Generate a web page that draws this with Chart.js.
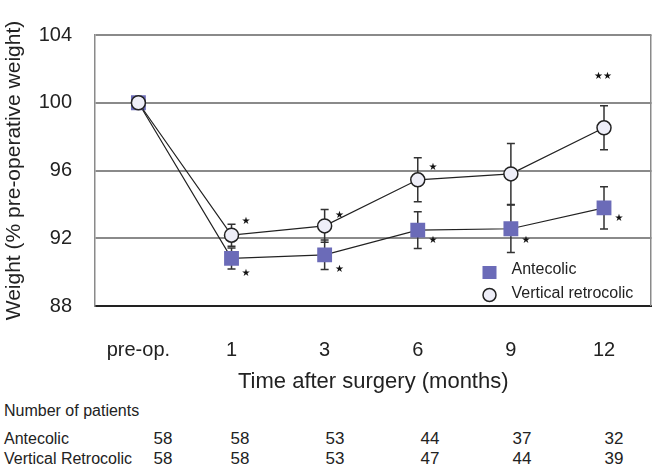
<!DOCTYPE html>
<html>
<head>
<meta charset="utf-8">
<script src="https://cdn.jsdelivr.net/npm/chart.js@4/dist/chart.umd.min.js"></script>
<style>
  body { margin: 0; background: #fff; font-family: "Liberation Sans", Arial, sans-serif; color: #222; }
  #wrap { position: relative; width: 662px; height: 470px; }
  #chart-box { position: absolute; left: 0; top: 0; width: 662px; height: 400px; }
  .t { position: absolute; font-size: 16px; line-height: 18px; white-space: nowrap; }
  .n { transform: translateX(-50%); font-size: 17px; }
</style>
</head>
<body>
<div id="wrap">
  <div id="chart-box"><canvas id="chart" width="662" height="400"></canvas></div>
  <div id="table"></div>
</div>
<script>
// time points (x index 0..5)
var timeLabels = ["pre-op.", "1", "3", "6", "9", "12"];

// mean weight, % of pre-operative
var antecolic = [100, 90.81, 91.02, 92.48, 92.56, 93.79];
var retrocolic = [100, 92.18, 92.73, 95.45, 95.8, 98.52];

// error bar half lengths
var antecolicErr = [0, 0.62, 0.87, 1.08, 1.4, 1.25];
var retrocolicErr = [0, 0.65, 0.97, 1.3, 1.8, 1.3];

// significance marks [x, y, text]
var marks = [
  [1.155, 93.0, "★"], [1.155, 89.93, "★"],
  [2.16, 93.37, "★"], [2.16, 90.16, "★"],
  [3.164, 96.21, "★"], [3.164, 91.86, "★"],
  [4.162, 91.86, "★"],
  [5.162, 93.18, "★"],
  [4.99, 101.54, "★★"]
];

// patient numbers
var patientsAntecolic = [58, 58, 53, 44, 37, 32];
var patientsRetrocolic = [58, 58, 53, 47, 44, 39];

var FONT = "'Liberation Sans', Arial, sans-serif";
var SQUARE = "#6b6bb8";
var CIRCLE = "#eeeef8";

function pts(arr) {
  return arr.map(function(v, i) { return { x: i, y: v }; });
}

var extras = {
  id: "extras",
  beforeDatasetsDraw: function(chart) {
    var ctx = chart.ctx, xs = chart.scales.x, ys = chart.scales.y, a = chart.chartArea;
    ctx.save();
    // right frame line
    ctx.strokeStyle = "#8a8a8a";
    ctx.lineWidth = 1.5;
    ctx.beginPath();
    ctx.moveTo(a.right - 0.75, a.top);
    ctx.lineTo(a.right - 0.75, a.bottom);
    ctx.stroke();
    // error bars
    var sets = [[antecolic, antecolicErr], [retrocolic, retrocolicErr]];
    ctx.strokeStyle = "#333";
    ctx.lineWidth = 1.5;
    sets.forEach(function(s) {
      s[0].forEach(function(v, i) {
        var e = s[1][i];
        if (!e) return;
        var x = xs.getPixelForValue(i);
        var y1 = ys.getPixelForValue(v + e), y2 = ys.getPixelForValue(v - e);
        ctx.beginPath();
        ctx.moveTo(x, y1); ctx.lineTo(x, y2);
        ctx.moveTo(x - 4, y1); ctx.lineTo(x + 4, y1);
        ctx.moveTo(x - 4, y2); ctx.lineTo(x + 4, y2);
        ctx.stroke();
      });
    });
    ctx.restore();
  },
  afterDraw: function(chart) {
    var ctx = chart.ctx, xs = chart.scales.x, ys = chart.scales.y, a = chart.chartArea;
    ctx.save();
    ctx.fillStyle = "#111";
    ctx.font = "10px 'DejaVu Sans', sans-serif";
    ctx.textAlign = "center";
    ctx.textBaseline = "middle";
    marks.forEach(function(m) {
      ctx.fillText(m[2], xs.getPixelForValue(m[0]), ys.getPixelForValue(m[1]));
    });
    // legend
    var lx = a.right - 162, ly = a.bottom - 34;
    ctx.fillStyle = SQUARE;
    ctx.fillRect(lx - 7, ly - 6, 14, 13);
    ctx.beginPath();
    ctx.arc(lx, ly + 23, 6.5, 0, Math.PI * 2);
    ctx.fillStyle = CIRCLE;
    ctx.fill();
    ctx.strokeStyle = "#222";
    ctx.lineWidth = 1.5;
    ctx.stroke();
    ctx.fillStyle = "#222";
    ctx.font = "16px " + FONT;
    ctx.textAlign = "left";
    ctx.fillText("Antecolic", lx + 22, ly - 2);
    ctx.fillText("Vertical retrocolic", lx + 22, ly + 22);
    ctx.restore();
  }
};

window.addEventListener("load", function() {
  new Chart(document.getElementById("chart"), {
    type: "scatter",
    data: {
      datasets: [{
        label: "Antecolic",
        data: pts(antecolic),
        showLine: true,
        borderColor: "#222",
        borderWidth: 1.2,
        pointStyle: "rect",
        pointRadius: 10.5,
        pointBackgroundColor: SQUARE,
        pointBorderColor: SQUARE,
        pointBorderWidth: 0,
        order: 2
      }, {
        label: "Vertical retrocolic",
        data: pts(retrocolic),
        showLine: true,
        borderColor: "#222",
        borderWidth: 1.2,
        pointStyle: "circle",
        pointRadius: 7,
        pointBackgroundColor: CIRCLE,
        pointBorderColor: "#222",
        pointBorderWidth: 1.5,
        order: 1
      }]
    },
    options: {
      responsive: false,
      animation: false,
      layout: { padding: { top: 24, right: 2, left: 0, bottom: 0 } },
      plugins: { legend: { display: false }, tooltip: { enabled: false } },
      scales: {
        x: {
          type: "linear",
          min: -0.466,
          max: 5.51,
          afterFit: function(s) {
            s.height = 94;
            s.paddingLeft = 0;
            s.paddingRight = 0;
          },
          afterBuildTicks: function(s) {
            s.ticks = timeLabels.map(function(l, i) { return { value: i }; });
          },
          ticks: {
            padding: 32,
            color: "#222",
            font: { family: FONT, size: 20 },
            callback: function(v) { return timeLabels[v]; }
          },
          grid: { display: false, drawTicks: false },
          border: { color: "#222", width: 2 },
          title: {
            display: true,
            text: "Time after surgery (months)",
            color: "#222",
            font: { family: FONT, size: 22 },
            padding: { top: 0, bottom: 5 }
          }
        },
        y: {
          min: 88,
          max: 104,
          afterFit: function(s) { s.width = 95; },
          ticks: {
            stepSize: 4,
            padding: 23,
            color: "#222",
            font: { family: FONT, size: 20 }
          },
          grid: { color: "#8a8a8a", lineWidth: 2, drawTicks: false },
          border: { color: "#8a8a8a", width: 1.5 },
          title: {
            display: true,
            text: "Weight (% pre-operative weight)",
            color: "#222",
            font: { family: FONT, size: 21 },
            padding: { top: 2, bottom: 0 }
          }
        }
      }
    },
    plugins: [extras]
  });

  // patient number table
  var cols = [163, 240, 335, 430, 522, 614];
  var html = '<div class="t" style="left:4px;top:402px">Number of patients</div>';
  var rows = [["Antecolic", patientsAntecolic, 430], ["Vertical Retrocolic", patientsRetrocolic, 450]];
  rows.forEach(function(r) {
    html += '<div class="t" style="left:4px;top:' + r[2] + 'px">' + r[0] + '</div>';
    r[1].forEach(function(n, i) {
      html += '<div class="t n" style="left:' + cols[i] + 'px;top:' + r[2] + 'px">' + n + '</div>';
    });
  });
  document.getElementById("table").innerHTML = html;
});
</script>
</body>
</html>
